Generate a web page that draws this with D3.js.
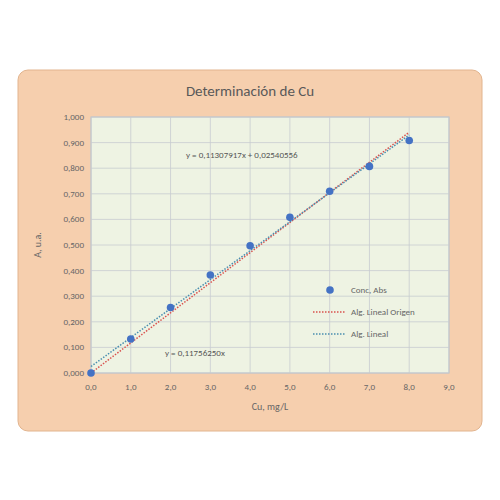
<!DOCTYPE html>
<html><head><meta charset="utf-8">
<script src="https://cdn.jsdelivr.net/npm/d3@7"></script>
<style>body{margin:0;background:#fff}</style></head>
<body><script>
const conc = [0, 1, 2, 3, 4, 5, 6, 7, 8];
const abs = [0.000, 0.133, 0.256, 0.383, 0.497, 0.608, 0.710, 0.807, 0.908];
const slopeOrigin = 0.1175625;
const slopeLin = 0.11307917, interceptLin = 0.02540556;
const xTicks = [0,1,2,3,4,5,6,7,8,9];
const yTicks = [0,0.1,0.2,0.3,0.4,0.5,0.6,0.7,0.8,0.9,1.0];
const fmt = (v, d) => v.toFixed(d).replace('.', ',');

const svg = d3.select('body').append('svg').attr('width', 500).attr('height', 500)
  .style('font-family', 'Calibri, Carlito, "Open Sans", sans-serif');
svg.append('rect').attr('x', 18).attr('y', 70).attr('width', 464).attr('height', 361)
  .attr('rx', 10).attr('fill', '#f6cfae').attr('stroke', '#e2b48e');

const x = d3.scaleLinear().domain([0, 9]).range([91, 449]);
const y = d3.scaleLinear().domain([0, 1]).range([373, 117]);

svg.append('rect').attr('x', 91).attr('y', 117).attr('width', 358).attr('height', 256)
  .attr('fill', '#eef3e3').attr('stroke', '#b8c0c8');
svg.append('g').selectAll('line').data(yTicks).join('line')
  .attr('x1', 91).attr('x2', 449).attr('y1', d => y(d)).attr('y2', d => y(d))
  .attr('stroke', '#c8ccd0').attr('stroke-width', 0.8);
svg.append('g').selectAll('line').data(xTicks).join('line')
  .attr('y1', 117).attr('y2', 373).attr('x1', d => x(d)).attr('x2', d => x(d))
  .attr('stroke', '#c8ccd0').attr('stroke-width', 0.8);

const ax = svg.append('g').attr('font-size', 9).attr('fill', '#666');
ax.selectAll('.yt').data(yTicks).join('text').attr('x', 84).attr('y', d => y(d) + 3)
  .attr('text-anchor', 'end').text(d => fmt(d, 3));
ax.selectAll('.xt').data(xTicks).join('text').attr('x', d => x(d)).attr('y', 390)
  .attr('text-anchor', 'middle').text(d => fmt(d, 1));

svg.append('text').attr('x', 250).attr('y', 96).attr('text-anchor', 'middle')
  .attr('font-size', 15).attr('fill', '#595959').text('Determinación de Cu');
svg.append('text').attr('x', 270).attr('y', 410).attr('text-anchor', 'middle')
  .attr('font-size', 10).attr('fill', '#666').text('Cu, mg/L');
svg.append('text').attr('transform', 'translate(41,245) rotate(-90)').attr('text-anchor', 'middle')
  .attr('font-size', 10).attr('fill', '#666').text('A, u.a.');

svg.append('line').attr('x1', x(0)).attr('y1', y(0)).attr('x2', x(8)).attr('y2', y(slopeOrigin * 8))
  .attr('stroke', '#d9534f').attr('stroke-width', 1.5).attr('stroke-dasharray', '1.5,1.5');
svg.append('line').attr('x1', x(0)).attr('y1', y(interceptLin)).attr('x2', x(8)).attr('y2', y(interceptLin + slopeLin * 8))
  .attr('stroke', '#4a8fb0').attr('stroke-width', 1.5).attr('stroke-dasharray', '1.5,1.5');

svg.append('g').selectAll('circle').data(conc).join('circle')
  .attr('cx', d => x(d)).attr('cy', (d, i) => y(abs[i])).attr('r', 3.8).attr('fill', '#4472c4');

svg.append('text').attr('x', 186).attr('y', 158).attr('font-size', 9).attr('fill', '#555')
  .text('y = 0,11307917x + 0,02540556');
svg.append('text').attr('x', 165).attr('y', 356).attr('font-size', 9).attr('fill', '#555')
  .text('y = 0,11756250x');

const lg = svg.append('g').attr('font-size', 9).attr('fill', '#666');
lg.append('circle').attr('cx', 330).attr('cy', 290).attr('r', 3.8).attr('fill', '#4472c4');
lg.append('text').attr('x', 351).attr('y', 293).text('Conc, Abs');
lg.append('line').attr('x1', 313).attr('x2', 345).attr('y1', 312).attr('y2', 312)
  .attr('stroke', '#d9534f').attr('stroke-width', 1.5).attr('stroke-dasharray', '1.5,1.5');
lg.append('text').attr('x', 351).attr('y', 315).text('Alg. Lineal Origen');
lg.append('line').attr('x1', 313).attr('x2', 345).attr('y1', 334).attr('y2', 334)
  .attr('stroke', '#4a8fb0').attr('stroke-width', 1.5).attr('stroke-dasharray', '1.5,1.5');
lg.append('text').attr('x', 351).attr('y', 337).text('Alg. Lineal');
</script></body></html>
